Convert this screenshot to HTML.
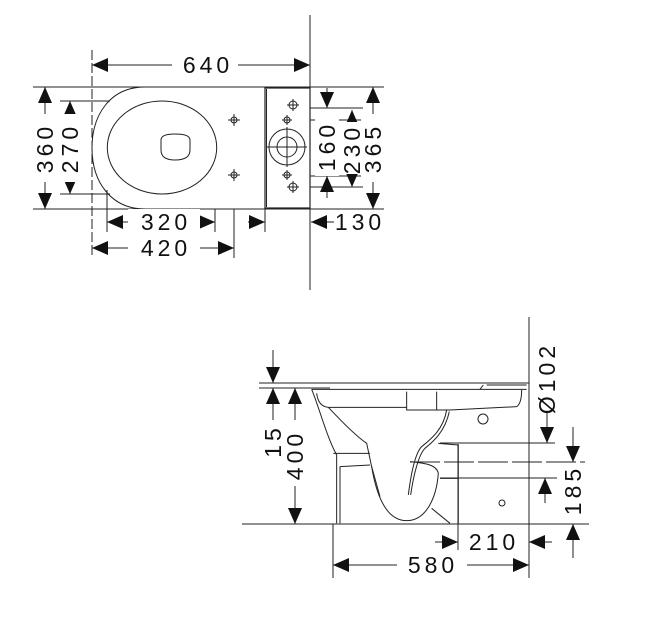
<!DOCTYPE html>
<html><head><meta charset="utf-8"><style>
html,body{margin:0;padding:0;background:#fff;}
svg{display:block;}
text{font-family:"Liberation Sans",sans-serif;font-size:23px;fill:#111;letter-spacing:4px;}
</style></head><body>
<svg width="646" height="630" viewBox="0 0 646 630" xmlns="http://www.w3.org/2000/svg">
<defs>
<marker id="a" viewBox="0 0 16 14" refX="16" refY="7" markerWidth="16" markerHeight="14" markerUnits="userSpaceOnUse" orient="auto-start-reverse"><path d="M0,0L16,7L0,14z" fill="#111"/></marker>
</defs>
<g stroke="#222" stroke-width="1" fill="none">
<!-- TOP VIEW -->
<line x1="310" y1="15" x2="310" y2="290"/>
<line x1="92" y1="50" x2="92" y2="258" stroke-dasharray="10,3"/>
<line x1="33" y1="87" x2="384" y2="87"/>
<line x1="33" y1="209" x2="384" y2="209"/>
<line x1="60" y1="101" x2="110" y2="101"/>
<line x1="60" y1="194" x2="110" y2="194"/>
<path d="M145,87 C110,87 92,115 92,148 C92,183 112,209 145,209"/>
<ellipse cx="162" cy="147.5" rx="54.7" ry="46.5"/>
<path d="M161,140 Q161,134 175,134 Q190,134 190,140 L190,150 Q190,160 175,160 Q161,160 161,150 Z"/>
<circle cx="234" cy="120" r="3"/><line x1="228" y1="120" x2="240" y2="120"/><line x1="234" y1="114" x2="234" y2="126"/>
<circle cx="234" cy="175" r="3"/><line x1="228" y1="175" x2="240" y2="175"/><line x1="234" y1="169" x2="234" y2="181"/>
<rect x="265" y="88" width="45" height="120" stroke-width="1.2"/>
<line x1="266.5" y1="89" x2="266.5" y2="207"/>
<circle cx="287" cy="147" r="18"/><circle cx="287" cy="147" r="10"/>
<line x1="267" y1="147" x2="307" y2="147"/><line x1="287" y1="127" x2="287" y2="167"/>
<circle cx="293" cy="105" r="4"/><line x1="287" y1="105" x2="299" y2="105"/><line x1="293" y1="99" x2="293" y2="111"/>
<circle cx="287" cy="120" r="3"/><line x1="282" y1="120" x2="292" y2="120"/><line x1="287" y1="115" x2="287" y2="125"/>
<circle cx="287" cy="175" r="3"/><line x1="282" y1="175" x2="292" y2="175"/><line x1="287" y1="170" x2="287" y2="180"/>
<circle cx="293" cy="187" r="4"/><line x1="287" y1="187" x2="299" y2="187"/><line x1="293" y1="181" x2="293" y2="193"/>
<line x1="310" y1="108" x2="363" y2="108"/>
<line x1="310" y1="120" x2="363" y2="120"/>
<line x1="310" y1="176" x2="363" y2="176"/>
<line x1="310" y1="187" x2="363" y2="187"/>
<line x1="107" y1="190" x2="107" y2="232"/>
<line x1="215" y1="209" x2="215" y2="232"/>
<line x1="234" y1="209" x2="234" y2="258"/>
<line x1="265" y1="209" x2="265" y2="232"/>
<!-- dims top -->
<line x1="92" y1="65" x2="310" y2="65" marker-start="url(#a)" marker-end="url(#a)"/>
<line x1="45" y1="87" x2="45" y2="209" marker-start="url(#a)" marker-end="url(#a)"/>
<line x1="70" y1="101" x2="70" y2="194" marker-start="url(#a)" marker-end="url(#a)"/>
<line x1="373" y1="87" x2="373" y2="209" marker-start="url(#a)" marker-end="url(#a)"/>
<line x1="327" y1="88" x2="327" y2="108" marker-end="url(#a)"/>
<line x1="327" y1="198" x2="327" y2="176" marker-end="url(#a)"/>
<line x1="352" y1="124" x2="352" y2="110" marker-end="url(#a)"/>
<line x1="352" y1="173" x2="352" y2="187" marker-end="url(#a)"/>
<line x1="107" y1="222" x2="215" y2="222" marker-start="url(#a)" marker-end="url(#a)"/>
<line x1="92" y1="248" x2="234" y2="248" marker-start="url(#a)" marker-end="url(#a)"/>
<line x1="248" y1="222" x2="265" y2="222" marker-end="url(#a)"/>
<line x1="334" y1="222" x2="311" y2="222" marker-end="url(#a)"/>

<!-- SIDE VIEW -->
<line x1="529" y1="317" x2="529" y2="578"/>
<line x1="242" y1="524" x2="589" y2="524"/>
<line x1="259" y1="383" x2="529" y2="383"/>
<line x1="259" y1="388" x2="330" y2="388"/>
<g transform="translate(240,310) scale(0.3333)" stroke-width="3">
<path d="M215,238 L860,238"/>
<path d="M215,238 C240,300 260,380 290,435 L290,640"/>
<path d="M230,250 Q235,290 265,292 L500,292"/>
<path d="M500,245 L500,300 L590,300 L590,245"/>
<path d="M590,300 L630,300 L830,290 Q845,280 845,240"/>
<path d="M265,292 C310,340 350,380 380,400 L395,470 C410,560 440,632 500,632 C560,632 590,560 595,490 C590,465 560,460 510,455"/>
<path d="M280,430 L390,430 M300,470 L390,465 M300,470 L300,640 M395,470 L420,560"/>
<path d="M620,300 C610,360 570,390 545,410 C525,430 512,500 505,555"/>
<path d="M628,305 C615,365 580,395 555,415 C535,435 520,500 512,555"/>
<path d="M595,400 L655,405 L655,640 M600,505 L655,505 M575,595 L630,640"/>
<path d="M730,225 L720,238 M740,225 L860,225"/>
</g>
<circle cx="483" cy="419" r="5"/>
<circle cx="502" cy="503" r="3"/>
<line x1="440" y1="443" x2="555" y2="443"/>
<line x1="410" y1="462" x2="585" y2="462" stroke-dasharray="30,4"/>
<line x1="440" y1="478" x2="557" y2="478"/>
<line x1="458" y1="444" x2="458" y2="550"/>
<line x1="333" y1="524" x2="333" y2="578"/>
<!-- side dims -->
<line x1="273" y1="350" x2="273" y2="383" marker-end="url(#a)"/>
<line x1="273" y1="420" x2="273" y2="388" marker-end="url(#a)"/>
<line x1="295" y1="388" x2="295" y2="524" marker-start="url(#a)" marker-end="url(#a)"/>
<line x1="547" y1="412" x2="547" y2="443" marker-end="url(#a)"/>
<line x1="573" y1="427" x2="573" y2="462" marker-end="url(#a)"/>
<line x1="545" y1="503" x2="545" y2="478" marker-end="url(#a)"/>
<line x1="573" y1="558" x2="573" y2="524" marker-end="url(#a)"/>
<line x1="435" y1="542" x2="458" y2="542" marker-end="url(#a)"/>
<line x1="552" y1="542" x2="529" y2="542" marker-end="url(#a)"/>
<line x1="333" y1="565" x2="529" y2="565" marker-start="url(#a)" marker-end="url(#a)"/>
</g>
<g fill="#fff">
<rect x="172" y="52" width="66" height="26"/>
<rect x="33" y="114" width="24" height="68"/>
<rect x="58" y="114" width="24" height="68"/>
<rect x="361" y="114" width="24" height="68"/>
<rect x="315" y="112" width="24" height="64"/>
<rect x="340" y="122" width="24" height="52"/>
<rect x="128" y="209" width="72" height="26"/>
<rect x="128" y="235" width="72" height="26"/>
<rect x="283" y="420" width="24" height="66"/>
<rect x="397" y="552" width="70" height="26"/>
</g>
<g>
<text x="208" y="73" text-anchor="middle">640</text>
<text transform="translate(53,148) rotate(-90)" text-anchor="middle">360</text>
<text transform="translate(78,148) rotate(-90)" text-anchor="middle">270</text>
<text transform="translate(335,146) rotate(-90)" text-anchor="middle">160</text>
<text transform="translate(360,149) rotate(-90)" text-anchor="middle">230</text>
<text transform="translate(381,148) rotate(-90)" text-anchor="middle">365</text>
<text x="166" y="230" text-anchor="middle">320</text>
<text x="166" y="256" text-anchor="middle">420</text>
<text x="360" y="230" text-anchor="middle">130</text>
<text transform="translate(281,441) rotate(-90)" text-anchor="middle">15</text>
<text transform="translate(303,455) rotate(-90)" text-anchor="middle">400</text>
<text transform="translate(555,378) rotate(-90)" text-anchor="middle">Ø102</text>
<text transform="translate(581,490) rotate(-90)" text-anchor="middle">185</text>
<text x="494" y="550" text-anchor="middle">210</text>
<text x="433" y="573" text-anchor="middle">580</text>
</g>
</svg>
</body></html>
